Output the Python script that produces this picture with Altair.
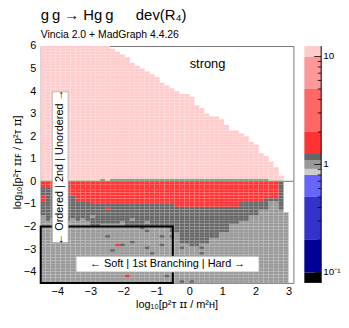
import math
import altair as alt
import pandas as pd

# ---------------- data ----------------
X0, DX, NX = -4.5, 0.15, 50          # x bins (log10 pT^2/mH^2)
Y0, DY, NY = -4.5, 0.125, 84         # y bins (log10 ratio)

# top edge of the light-pink (>10) region, per x column
pink_top = [6.0] * 14 + [5.875, 5.75, 5.625, 5.5, 5.25, 5.125, 5.0, 4.875, 4.75, 4.625,
                         4.375, 4.25, 4.125, 4.0, 3.875, 3.875, 3.75, 3.375, 3.25, 3.0,
                         2.875, 2.875, 2.75, 2.5, 2.25, 2.25, 2.125, 2.0, 1.75, 1.625,
                         1.25, 1.125, 0.875, 0.625, 0.25, 0.0]
# lower edge of the red (1.25-2) band below zero, per column
red_bottom = ([-0.25] * 3 + [-0.375] * 2 + [-0.625] * 2 + [-0.875] * 3 + [-1.0] * 17 +
              [-1.125] * 13 + [-0.875] * 5 + [-0.75] * 3 + [0.0, 0.0])
# lower edge of the dark-grey (1.1-1.25) band, per column
dark_bottom = ([-1.5, -1.75, -1.625] + [-1.75] * 7 + [-1.875] * 7 + [-2.0] * 9 +
               [-2.25] * 2 + [-2.75] * 2 + [-2.875] * 2 + [-2.75] * 2 + [-2.5] * 2 +
               [-2.25] * 2 + [-1.875] * 2 + [-1.75] * 2 + [-1.5] * 2 + [-1.25] * 2 +
               [-0.875] * 2 + [-1.25, -1.375])
# columns where the first row above zero is grey (~1)
grey_row_cols = [12] + list(range(14, 46))
# empty (no entries) stretches: (column, from y, to y)
blank = [(49, -1.375, 6.0)]

# isolated cells (x, y)
dark_cells = [(-2.5, -2.49), (-2.05, -2.84), (-2.29, -3.06), (-1.69, -2.71), (-1.31, -2.93),
              (-1.4, -2.05), (-1.31, -2.18), (-1.16, -3.14), (-0.8, -2.84), (-0.86, -2.49),
              (-0.56, -2.49), (-0.35, -2.05), (-0.29, -2.93), (-0.11, -2.71), (0.04, -2.84),
              (0.25, -2.71), (0.34, -2.93), (0.34, -3.23), (0.55, -2.62), (0.7, -2.27),
              (-0.71, -4.19), (-0.29, -4.4), (0.01, -4.4), (-2.9, -1.95), (-2.75, -1.95)]
red_cells = [(-2.14, -2.84), (-1.81, -4.15), (-2.53, -1.22), (-4.45, -0.8), (-4.45, -0.7)]
grey_cells = [(-3.5, -1.65), (-3.2, -1.65), (-2.9, -1.55), (-2.0, -1.8), (-1.7, -1.7),
              (-1.25, -1.85)]

# representative ratio of each colour band
V_PINK, V_RED, V_DARK, V_GREY = 11.0, 1.6, 1.18, 1.0

# colour bar
cb_edges = [0.08, 0.1, 0.2, 0.5, 0.8, 0.91, 1.1, 1.25, 2.0, 5.0, 10.0, 12.5]
cb_colors = ["#000000", "#000099", "#3333cc", "#6666ff", "#cccccc", "#999999",
             "#666666", "#ff3333", "#ff6666", "#ff9999", "#ffcccc"]
cb_major = [0.1, 1, 10]
cb_major_text = ["10⁻¹", "1", "10"]
cb_minor = [0.2, 0.3, 0.4, 0.5, 0.6, 0.7, 0.8, 0.9, 2, 3, 4, 5, 6, 7, 8, 9]

x_ticks = [-4, -3, -2, -1, 0, 1, 2, 3]
y_ticks = [-4, -3, -2, -1, 0, 1, 2, 3, 4, 5, 6]

# ---------------- build the cell table ----------------
def col_of(x):
    return int(math.floor((x - X0) / DX + 1e-9))

def row_of(y):
    return int(math.floor((y - Y0) / DY + 1e-9))

grid = {}
row0 = row_of(0.0)
for i in range(NX):
    for j in range(NY):
        yc = Y0 + (j + 0.5) * DY
        v = None
        if yc > 0:
            if j == row0 and i in grey_row_cols:
                v = V_GREY
            elif yc < pink_top[i]:
                v = V_PINK
        else:
            if yc > red_bottom[i]:
                v = V_RED
            elif yc > dark_bottom[i]:
                v = V_DARK
            else:
                v = V_GREY
        grid[(i, j)] = v
for (c, ya, yb) in blank:
    for j in range(NY):
        yc = Y0 + (j + 0.5) * DY
        if ya < yc < yb:
            grid[(c, j)] = None
for lst, v in ((dark_cells, V_DARK), (red_cells, V_RED), (grey_cells, V_GREY)):
    for (x, y) in lst:
        grid[(col_of(x), row_of(y))] = v

cells = pd.DataFrame([
    {"x0": X0 + i * DX, "x1": X0 + (i + 1) * DX,
     "y0": Y0 + j * DY, "y1": Y0 + (j + 1) * DY, "v": v}
    for (i, j), v in grid.items() if v is not None
])

cb = pd.DataFrame({"lo": cb_edges[:-1], "hi": cb_edges[1:],
                   "v": [math.sqrt(a * b) for a, b in zip(cb_edges[:-1], cb_edges[1:])]})

FONT = "Liberation Sans"
XDOM = [-4.5, 3.15]
YDOM = [-4.5, 6.0]

color = alt.Color("v:Q", legend=None,
                  scale=alt.Scale(type="threshold", domain=cb_edges[1:-1], range=cb_colors))

xs = alt.Scale(domain=XDOM, nice=False, zero=False)
ys = alt.Scale(domain=YDOM, nice=False, zero=False)

AX = alt.Axis(
    values=x_ticks, tickCount=8, title="log₁₀[p²ᴛ ɪɪ / m²ʜ]", grid=False, ticks=False,
    domain=False, labelOverlap=False, labelFont=FONT, labelFontSize=11, labelColor="black",
    labelPadding=3, titleFont=FONT, titleFontSize=11, titleFontWeight="normal",
    titleColor="black", titleX=137, titleY=22, titleBaseline="middle")
AY = alt.Axis(
    values=y_ticks, tickCount=11, title="log₁₀[p²ᴛ ɪɪꜰ / p²ᴛ ɪɪ]", grid=False, ticks=False,
    domain=False, labelOverlap=False, labelFont=FONT, labelFontSize=11, labelColor="black",
    labelPadding=5, titleFont=FONT, titleFontSize=11, titleFontWeight="normal",
    titleColor="black", titleAngle=270, titleX=-23, titleY=117, titleBaseline="middle")


def X(f):
    return alt.X(f, scale=xs, axis=AX)


def Y(f):
    return alt.Y(f, scale=ys, axis=AY)


heat = alt.Chart(cells).mark_rect(strokeWidth=0.4, stroke="#ffffff", strokeOpacity=0.18).encode(
    x=X("x0:Q"), x2="x1:Q", y=Y("y0:Q"), y2="y1:Q", color=color)

zero_line = pd.DataFrame({"x0": [XDOM[0]], "x1": [XDOM[1]], "y": [0.0]})
green = alt.Chart(zero_line).mark_rule(color="#44c844", strokeWidth=1.5).encode(
    x=X("x0:Q"), x2="x1:Q", y=Y("y:Q"))

box_df = pd.DataFrame({"x0": [-4.5], "x1": [-0.5], "y0": [-4.5], "y1": [-2.0]})
box = alt.Chart(box_df).mark_rect(fillOpacity=0, stroke="black", strokeWidth=2).encode(
    x=X("x0:Q"), x2="x1:Q", y=Y("y0:Q"), y2="y1:Q")

lab_df = pd.DataFrame({
    "x0": [-4.15, -3.43], "x1": [-3.67, 2.11], "y0": [-2.71, -4.02], "y1": [3.97, -3.32],
    "xc": [-3.91, -0.66], "yc": [0.63, -3.67],
    "txt": ["← Ordered | 2nd | Unordered →", "← Soft | 1st Branching | Hard →"]})
lab_box = alt.Chart(lab_df).mark_rect(fill="white", stroke="#aaaaaa", strokeWidth=0.8).encode(
    x=X("x0:Q"), x2="x1:Q", y=Y("y0:Q"), y2="y1:Q")
lab_v = alt.Chart(lab_df.iloc[[0]]).mark_text(font=FONT, fontSize=11, angle=270,
                                              baseline="middle", align="center", color="black").encode(
    x=X("xc:Q"), y=Y("yc:Q"), text="txt:N")
lab_h = alt.Chart(lab_df.iloc[[1]]).mark_text(font=FONT, fontSize=11,
                                              baseline="middle", align="center", color="black").encode(
    x=X("xc:Q"), y=Y("yc:Q"), text="txt:N")

strong_df = pd.DataFrame({"x": [0.55], "y": [5.2], "t": ["strong"]})
strong = alt.Chart(strong_df).mark_text(font=FONT, fontSize=13, color="black",
                                        baseline="middle", align="center").encode(
    x=X("x:Q"), y=Y("y:Q"), text="t:N")

main = alt.layer(heat, green, box, lab_box, lab_v, lab_h, strong)

cbs = alt.Scale(type="log", domain=[cb_edges[0], cb_edges[-1]], nice=False)
cbar = alt.Chart(cb).mark_rect().encode(
    x=alt.value(266), x2=alt.value(283),
    y=alt.Y("lo:Q", scale=cbs, axis=None),
    y2="hi:Q",
    color=color,
)
cb_edge = alt.Chart(pd.DataFrame({"a": [cb_edges[0]], "b": [cb_edges[-1]]})).mark_rule(
    color="black", strokeWidth=1).encode(
    x=alt.value(283), y=alt.Y("a:Q", scale=cbs, axis=None), y2="b:Q")
tick_major = alt.Chart(pd.DataFrame({"t": cb_major})).mark_rule(
    color="black", strokeWidth=0.8).encode(
    x=alt.value(276), x2=alt.value(283), y=alt.Y("t:Q", scale=cbs, axis=None))
tick_label = alt.Chart(pd.DataFrame({"t": cb_major, "s": cb_major_text})).mark_text(
    font=FONT, fontSize=10, color="black", align="left", baseline="middle").encode(
    x=alt.value(285), y=alt.Y("t:Q", scale=cbs, axis=None), text="s:N")
tick_minor = alt.Chart(pd.DataFrame({"t": cb_minor})).mark_rule(color="black", strokeWidth=0.8).encode(
    x=alt.value(279.5), x2=alt.value(283), y=alt.Y("t:Q", scale=cbs, axis=None))
colorbar = alt.layer(cbar, cb_edge, tick_major, tick_minor, tick_label)

chart = alt.layer(main, colorbar).resolve_scale(y="independent").properties(
    width=255, height=239,
    padding={"left": 4, "top": -2, "right": 0, "bottom": 0},
    title=alt.TitleParams(
        text="g\u2009g → Hg\u2009g\u2003\u2002dev(R₄)", subtitle="Vincia 2.0 + MadGraph 4.4.26",
        anchor="start", frame="group", font=FONT, fontSize=15, fontWeight="normal",
        subtitleFont=FONT, subtitleFontSize=10.5, subtitleColor="black", color="black",
        offset=0, subtitlePadding=7),
).configure_view(stroke="#777777", strokeWidth=1)

chart.save("out.html", embed_options={"renderer": "svg", "actions": False})
